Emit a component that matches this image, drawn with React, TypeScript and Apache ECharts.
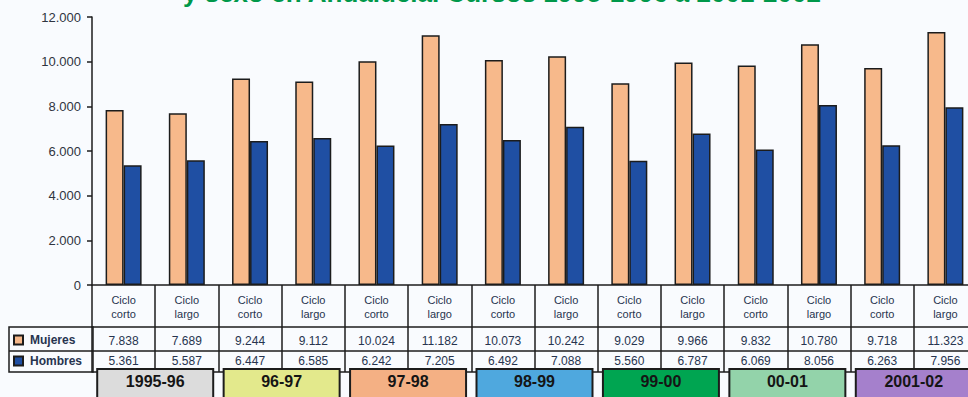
import React, { useEffect, useRef } from "react";
import * as echarts from "echarts";

const categories = [
  "Ciclo\ncorto", "Ciclo\nlargo", "Ciclo\ncorto", "Ciclo\nlargo",
  "Ciclo\ncorto", "Ciclo\nlargo", "Ciclo\ncorto", "Ciclo\nlargo",
  "Ciclo\ncorto", "Ciclo\nlargo", "Ciclo\ncorto", "Ciclo\nlargo",
  "Ciclo\ncorto", "Ciclo\nlargo",
];
const mujeres = [7838, 7689, 9244, 9112, 10024, 11182, 10073, 10242, 9029, 9966, 9832, 10780, 9718, 11323];
const hombres = [5361, 5587, 6447, 6585, 6242, 7205, 6492, 7088, 5560, 6787, 6069, 8056, 6263, 7956];
const years = ["1995-96", "96-97", "97-98", "98-99", "99-00", "00-01", "2001-02"];
const yearColors = ["#dcdcdc", "#e3e98c", "#f4b084", "#4fa8de", "#00a551", "#93d3aa", "#a580cc"];
const seriesNames = ["Mujeres", "Hombres"];
const seriesColors = ["#f7b98b", "#1f4fa3"];
const titleText = "y sexo en Andalucía. Cursos 1995-1996 a 2001-2002";

const fmt = (n: number | string) => String(n).replace(/\B(?=(\d{3})+(?!\d))/g, ".");

export default function App() {
  const ref = useRef<HTMLDivElement>(null);
  useEffect(() => {
    if (!ref.current) return;
    const chart = echarts.init(ref.current, null, { renderer: "svg" });
    const font = "Arial, 'Liberation Sans', sans-serif";
    const tableText = "#27344f";
    const lineCol = "#1c1c1c";
    const rich: Record<string, any> = {};
    years.forEach((_, i) => {
      rich["y" + i] = {
        backgroundColor: yearColors[i],
        borderColor: lineCol,
        borderWidth: 2,
        width: 114,
        height: 20,
        lineHeight: 20,
        align: "center",
        verticalAlign: "top",
        padding: [1, 0, 11, 0],
        fontSize: 16,
        fontWeight: "bold",
        color: "#151515",
        fontFamily: font,
      };
    });
    const baseX = {
      type: "category" as const,
      position: "bottom" as const,
      gridIndex: 0,
      boundaryGap: true,
    };
    chart.setOption({
      animation: false,
      backgroundColor: "#f9fbfe",
      title: {
        text: titleText,
        left: 183,
        top: -20,
        padding: 0,
        textStyle: { color: "#00984a", fontSize: 26, fontWeight: "bold", fontFamily: font },
      },
      legend: {
        data: seriesNames,
        orient: "vertical",
        left: 13,
        top: 334,
        padding: 0,
        icon: "rect",
        itemWidth: 9,
        itemHeight: 9,
        itemGap: 9,
        selectedMode: false,
        textStyle: { fontSize: 12, fontWeight: "bold", color: tableText, fontFamily: font, padding: [0, 0, 0, 2] },
      },
      grid: { left: 92, right: -9, top: 17, height: 268, containLabel: false, outerBoundsMode: "none" },
      yAxis: {
        type: "value",
        min: 0,
        max: 12000,
        interval: 2000,
        axisLine: { show: true, lineStyle: { color: lineCol, width: 1.5 } },
        axisTick: { show: true, length: 5, lineStyle: { color: lineCol, width: 1.5 } },
        splitLine: { show: false },
        axisLabel: { formatter: (v: number) => fmt(v), fontSize: 13, color: "#2f3440", margin: 11, fontFamily: font },
      },
      xAxis: [
        {
          ...baseX,
          data: categories,
          axisLine: { show: true, lineStyle: { color: lineCol, width: 1.5 } },
          axisTick: { show: true, length: 87, interval: 0, lineStyle: { color: lineCol, width: 1.5 } },
          axisLabel: { interval: 0, fontSize: 11, lineHeight: 14, margin: 8, color: tableText, fontFamily: font },
        },
        {
          ...baseX,
          offset: 42,
          data: mujeres.map(fmt),
          axisLine: { show: true, lineStyle: { color: lineCol, width: 1.5 } },
          axisTick: { show: false },
          axisLabel: { interval: 0, fontSize: 12, margin: 8, color: tableText, fontFamily: font },
        },
        {
          ...baseX,
          offset: 66,
          data: hombres.map(fmt),
          axisLine: { show: true, lineStyle: { color: lineCol, width: 1.5 } },
          axisTick: { show: false },
          axisLabel: { interval: 0, fontSize: 12, margin: 4, color: tableText, fontFamily: font },
        },
        {
          ...baseX,
          offset: 87,
          data: categories,
          axisLine: { show: true, lineStyle: { color: lineCol, width: 1.5 } },
          axisTick: { show: false },
          axisLabel: { show: false },
        },
        {
          ...baseX,
          offset: 85,
          data: years,
          axisLine: { show: false },
          axisTick: { show: false },
          axisLabel: {
            interval: 0,
            margin: 0,
            formatter: (v: string, i: number) => `{y${i}|${v}}`,
            rich,
          },
        },
      ],
      series: seriesNames.map((name, k) => ({
        name,
        type: "bar",
        xAxisIndex: 0,
        yAxisIndex: 0,
        data: k === 0 ? mujeres : hombres,
        barWidth: 18,
        barGap: "0%",
        itemStyle: { color: seriesColors[k], borderColor: lineCol, borderWidth: 1.5 },
      })),
      graphic: [
        {
          type: "rect",
          shape: { x: 9, y: 327, width: 84, height: 45 },
          style: { fill: "none", stroke: lineCol, lineWidth: 1.5 },
          z: 10,
        },
        {
          type: "line",
          shape: { x1: 9, y1: 351, x2: 93, y2: 351 },
          style: { stroke: lineCol, lineWidth: 1.5 },
          z: 10,
        },
      ],
    });
    return () => chart.dispose();
  }, []);
  return (
    <div
      ref={ref}
      style={{ position: "absolute", left: 0, top: 0, width: 968, height: 397 }}
    />
  );
}
